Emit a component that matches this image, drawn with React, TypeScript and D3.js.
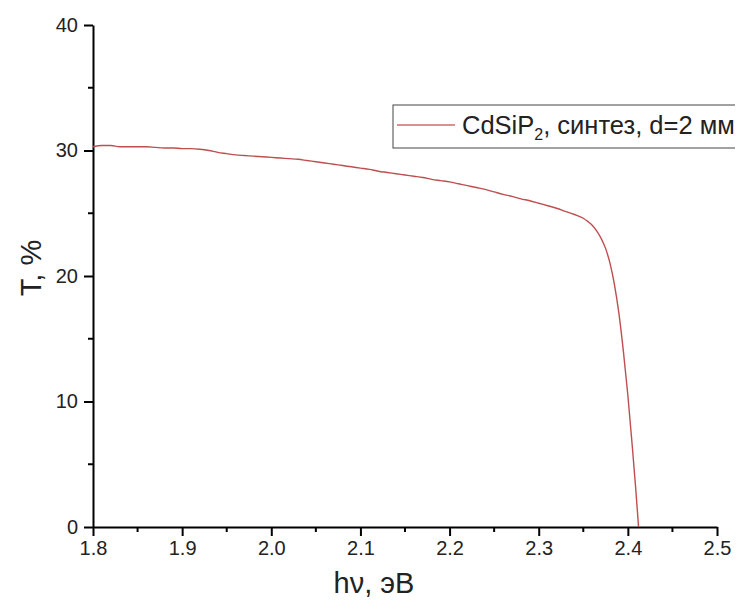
import React, { useEffect, useRef } from 'react';
import * as d3 from 'd3';

// photon energy, eV
const energy = [
  1.8, 1.81, 1.82, 1.83, 1.84, 1.85, 1.86, 1.87, 1.88, 1.89,
  1.9, 1.91, 1.92, 1.93, 1.94, 1.95, 1.96, 1.97, 1.98, 1.99,
  2.0, 2.01, 2.02, 2.03, 2.04, 2.05, 2.06, 2.07, 2.08, 2.09,
  2.1, 2.11, 2.12, 2.13, 2.14, 2.15, 2.16, 2.17, 2.18, 2.19,
  2.2, 2.21, 2.22, 2.23, 2.24, 2.25, 2.26, 2.27, 2.28, 2.29,
  2.3, 2.31, 2.32, 2.33, 2.34, 2.35, 2.355, 2.36, 2.365, 2.37,
  2.375, 2.38, 2.385, 2.39, 2.395, 2.4, 2.405, 2.409, 2.412,
];
// transmission, %
const transmission = [
  30.3, 30.4, 30.4, 30.3, 30.3, 30.3, 30.3, 30.25, 30.2, 30.2,
  30.15, 30.15, 30.1, 30.0, 29.85, 29.75, 29.65, 29.6, 29.55, 29.5,
  29.45, 29.4, 29.35, 29.3, 29.2, 29.1, 29.0, 28.9, 28.8, 28.7,
  28.6, 28.5, 28.35, 28.25, 28.15, 28.05, 27.95, 27.85, 27.7, 27.6,
  27.5, 27.35, 27.2, 27.05, 26.9, 26.7, 26.5, 26.35, 26.15, 26.0,
  25.8, 25.6, 25.4, 25.15, 24.9, 24.6, 24.35, 24.05, 23.6, 23.0,
  22.2, 21.0, 19.3, 17.0, 14.0, 10.5, 6.4, 2.9, 0,
];

const xTicks = [1.8, 1.9, 2.0, 2.1, 2.2, 2.3, 2.4, 2.5];
const yTicks = [0, 10, 20, 30, 40];

const W = 743;
const H = 606;
const font = "'Liberation Sans', Arial, sans-serif";

const App = () => {
  const ref = useRef(null);

  useEffect(() => {
    const svg = d3.select(ref.current);
    svg.selectAll('*').remove();

    const x = d3.scaleLinear().domain([1.8, 2.5]).range([93, 717]);
    const y = d3.scaleLinear().domain([0, 40]).range([527, 25]);

    const xMinor = d3.range(1.85, 2.5, 0.1);
    const yMinor = d3.range(5, 40, 10);

    // minor ticks
    svg.append('g').selectAll('line').data(xMinor).join('line')
      .attr('x1', d => x(d)).attr('x2', d => x(d))
      .attr('y1', y(0)).attr('y2', y(0) + 5)
      .attr('stroke', '#000').attr('stroke-width', 2);
    svg.append('g').selectAll('line').data(yMinor).join('line')
      .attr('y1', d => y(d)).attr('y2', d => y(d))
      .attr('x1', x(1.8)).attr('x2', x(1.8) - 5)
      .attr('stroke', '#000').attr('stroke-width', 2);

    const xAxis = svg.append('g')
      .attr('transform', `translate(0,${y(0)})`)
      .call(d3.axisBottom(x).tickValues(xTicks).tickFormat(d3.format('.1f')).tickSize(9).tickSizeOuter(0).tickPadding(5));
    const yAxis = svg.append('g')
      .attr('transform', `translate(${x(1.8)},0)`)
      .call(d3.axisLeft(y).tickValues(yTicks).tickSize(9).tickSizeOuter(0).tickPadding(6));

    [xAxis, yAxis].forEach(g => {
      g.select('.domain').attr('stroke-width', 2);
      g.selectAll('.tick line').attr('stroke-width', 2);
      g.selectAll('text').attr('font-family', font).attr('font-size', 20).attr('fill', '#222');
    });

    // curve
    const line = d3.line<number>()
      .x((_, i) => x(energy[i]))
      .y(d => y(d))
      .curve(d3.curveMonotoneX);
    svg.append('path')
      .datum(transmission)
      .attr('d', line)
      .attr('fill', 'none')
      .attr('stroke', '#bd4f4f')
      .attr('stroke-width', 1.4);

    // axis titles
    svg.append('text')
      .attr('x', 374).attr('y', 593)
      .attr('text-anchor', 'middle')
      .attr('font-family', font).attr('font-size', 29).attr('fill', '#222')
      .text('hν, эВ');
    svg.append('text')
      .attr('transform', `translate(41,${268}) rotate(-90)`)
      .attr('text-anchor', 'middle')
      .attr('font-family', font).attr('font-size', 29).attr('fill', '#222')
      .text('T, %');

    // legend
    const lg = svg.append('g');
    lg.append('rect')
      .attr('x', 393).attr('y', 105).attr('width', 360).attr('height', 43)
      .attr('fill', '#fff').attr('stroke', '#444').attr('stroke-width', 1);
    lg.append('line')
      .attr('x1', 397).attr('x2', 455).attr('y1', 125).attr('y2', 125)
      .attr('stroke', '#d06a6a').attr('stroke-width', 1.3);
    const t = lg.append('text')
      .attr('x', 462).attr('y', 134)
      .attr('font-family', font).attr('font-size', 25.5).attr('fill', '#222');
    t.append('tspan').text('CdSiP');
    t.append('tspan').attr('font-size', 16).attr('dy', 6).text('2');
    t.append('tspan').attr('dy', -6).text(', синтез, d=2 мм');
  }, []);

  return <svg ref={ref} width={W} height={H} style={{ display: 'block', margin: -8 }}></svg>;
};

export default App;
